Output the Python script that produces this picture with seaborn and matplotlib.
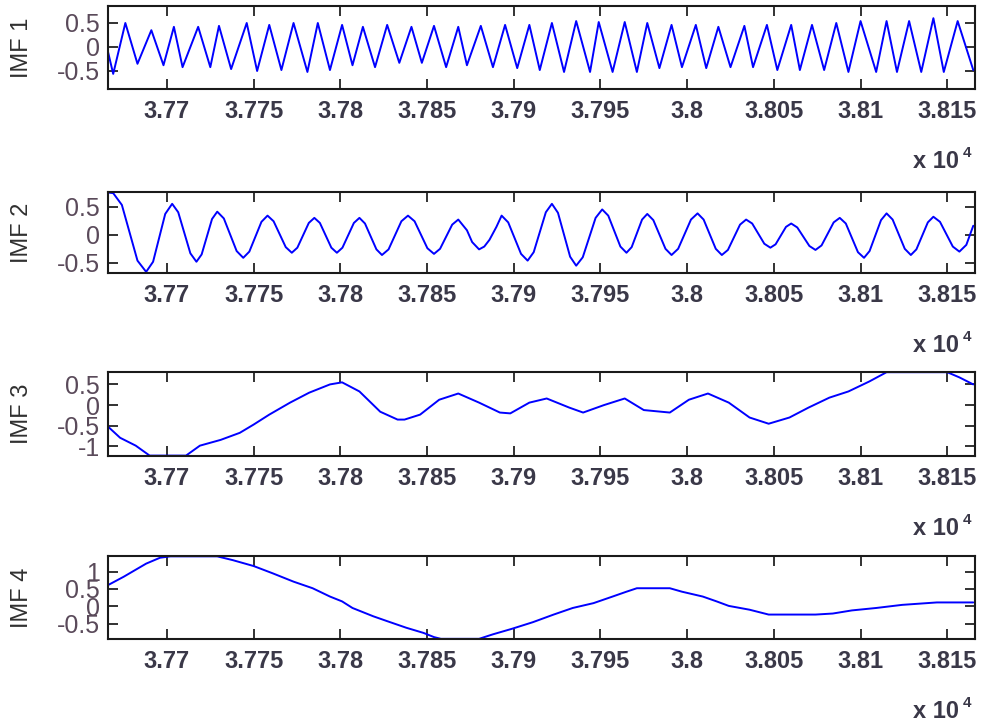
import matplotlib
matplotlib.use("Agg")
import matplotlib.pyplot as plt
import numpy as np
import pandas as pd
import seaborn as sns

# ---------------- data ----------------
imf1_t = [37666, 37669, 37676, 37683, 37691, 37698, 37704, 37709, 37718, 37725,
          37730, 37737, 37746, 37752, 37759, 37766, 37773, 37781, 37787, 37794,
          37801, 37807, 37813, 37820, 37827, 37834, 37841, 37847, 37854, 37861,
          37868, 37873, 37881, 37888, 37895, 37902, 37909, 37915, 37922, 37929,
          37936, 37944, 37949, 37957, 37964, 37971, 37977, 37984, 37991, 37997,
          38005, 38011, 38018, 38025, 38033, 38038, 38046, 38052, 38060, 38065,
          38072, 38079, 38086, 38093, 38100, 38109, 38115, 38121, 38128, 38135,
          38142, 38148, 38156, 38165]
imf1_v = [-0.10, -0.56, 0.50, -0.35, 0.35, -0.38, 0.42, -0.42, 0.42, -0.42,
          0.44, -0.46, 0.50, -0.50, 0.46, -0.48, 0.50, -0.52, 0.50, -0.48,
          0.46, -0.38, 0.42, -0.42, 0.46, -0.33, 0.42, -0.33, 0.44, -0.42,
          0.42, -0.38, 0.44, -0.42, 0.46, -0.44, 0.46, -0.48, 0.50, -0.52,
          0.54, -0.52, 0.52, -0.52, 0.52, -0.52, 0.50, -0.44, 0.46, -0.42,
          0.46, -0.44, 0.42, -0.42, 0.44, -0.42, 0.46, -0.48, 0.46, -0.48,
          0.46, -0.48, 0.50, -0.52, 0.54, -0.52, 0.54, -0.52, 0.54, -0.52,
          0.60, -0.52, 0.54, -0.48]

imf2_t = [37666, 37669, 37674, 37683, 37688,
          37692, 37699, 37703,
          37706.5, 37713.5, 37717,
          37720, 37726, 37729,
          37732.8, 37740.2, 37744,
          37747.5, 37754.5, 37758,
          37761.5, 37768.5, 37772,
          37775.2, 37781.8, 37785,
          37788.2, 37794.8, 37798,
          37801.2, 37807.8, 37811,
          37814.2, 37820.8, 37824,
          37827.8, 37835.2, 37839,
          37842.8, 37850.2, 37854,
          37857.5, 37864.5, 37868,
          37873, 37876, 37880, 37883, 37886, 37890, 37893,
          37896.8, 37904.2, 37908,
          37911.5, 37918.5, 37922,
          37925.5, 37932.5, 37936,
          37939.8, 37947.2, 37951,
          37954.5, 37961.5, 37965,
          37968, 37974, 37977,
          37980.5, 37987.5, 37991,
          37994.8, 38002.2, 38006,
          38009.5, 38016.5, 38020,
          38023.5, 38030.5, 38034,
          38037.5, 38044.5, 38048,
          38051, 38057, 38060,
          38063.5, 38070.5, 38074,
          38077.5, 38084.5, 38088,
          38091.5, 38098.5, 38102,
          38105.2, 38111.8, 38115,
          38118.5, 38125.5, 38129,
          38132.2, 38138.8, 38142,
          38145.8, 38153.2, 38157,
          38161, 38165]
imf2_v = [0.75, 0.74, 0.53, -0.46, -0.66,
          -0.48, 0.37, 0.55,
          0.40, -0.33, -0.48,
          -0.35, 0.28, 0.41,
          0.29, -0.29, -0.41,
          -0.30, 0.23, 0.34,
          0.24, -0.22, -0.32,
          -0.23, 0.21, 0.30,
          0.21, -0.23, -0.32,
          -0.23, 0.21, 0.30,
          0.20, -0.26, -0.36,
          -0.26, 0.24, 0.34,
          0.24, -0.24, -0.34,
          -0.25, 0.18, 0.27,
          0.08, -0.13, -0.26, -0.21, -0.09, 0.14, 0.34,
          0.22, -0.34, -0.46,
          -0.31, 0.40, 0.55,
          0.39, -0.39, -0.55,
          -0.40, 0.30, 0.45,
          0.34, -0.21, -0.32,
          -0.22, 0.27, 0.37,
          0.26, -0.25, -0.36,
          -0.25, 0.27, 0.38,
          0.27, -0.25, -0.36,
          -0.27, 0.18, 0.27,
          0.20, -0.16, -0.23,
          -0.17, 0.14, 0.20,
          0.13, -0.20, -0.27,
          -0.19, 0.22, 0.30,
          0.20, -0.31, -0.41,
          -0.29, 0.26, 0.38,
          0.27, -0.25, -0.36,
          -0.26, 0.22, 0.32,
          0.23, -0.21, -0.30,
          -0.18, 0.16]

imf3_t = [37666, 37673, 37682, 37690, 37700, 37711, 37719, 37731, 37742, 37750,
          37759, 37771, 37782, 37794, 37801, 37811, 37823, 37833, 37837, 37846,
          37857, 37868, 37880, 37892, 37898, 37909, 37919, 37932, 37940, 37952,
          37964, 37975, 37990, 38001, 38012, 38024, 38036, 38047, 38059, 38070,
          38082, 38093, 38105, 38115, 38131, 38150, 38157, 38165]
imf3_v = [-0.52, -0.79, -0.98, -1.22, -1.22, -1.22, -0.98, -0.84, -0.67, -0.47,
          -0.23, 0.06, 0.30, 0.50, 0.55, 0.33, -0.16, -0.35, -0.35, -0.23,
          0.13, 0.28, 0.06, -0.18, -0.20, 0.06, 0.16, -0.06, -0.18, 0.00,
          0.16, -0.12, -0.18, 0.13, 0.28, 0.06, -0.30, -0.45, -0.30, -0.06,
          0.18, 0.33, 0.57, 0.795, 0.795, 0.795, 0.67, 0.50]

imf4_t = [37666, 37675, 37688, 37696, 37702, 37729, 37738, 37750, 37761,
          37773, 37784, 37794, 37801, 37807, 37819, 37827, 37838, 37848, 37854,
          37858, 37880, 37888, 37899, 37911, 37923, 37934, 37946, 37957,
          37965, 37971, 37978, 37990, 37997, 38009, 38017, 38024, 38036, 38047,
          38059, 38074, 38084, 38095, 38109, 38124, 38144, 38165]
imf4_v = [0.61, 0.85, 1.23, 1.40, 1.44, 1.44, 1.33, 1.16, 0.95,
          0.71, 0.52, 0.28, 0.14, -0.05, -0.29, -0.43, -0.62, -0.77, -0.89,
          -0.94, -0.94, -0.81, -0.65, -0.46, -0.24, -0.05, 0.09, 0.28,
          0.42, 0.52, 0.52, 0.52, 0.42, 0.28, 0.14, 0.01, -0.10, -0.24,
          -0.24, -0.24, -0.21, -0.12, -0.05, 0.04, 0.11, 0.11]

labels = ["IMF 1", "IMF 2", "IMF 3", "IMF 4"]

xtick_vals = [37700, 37750, 37800, 37850, 37900, 37950, 38000, 38050, 38100, 38150]
xtick_labels = ["3.77", "3.775", "3.78", "3.785", "3.79", "3.795", "3.8", "3.805", "3.81", "3.815"]

ytick_vals = [[0.5, 0, -0.5], [0.5, 0, -0.5], [0.5, 0, -0.5, -1], [1, 0.5, 0, -0.5]]
ytick_labels = [["0.5", "0", "-0.5"], ["0.5", "0", "-0.5"],
                ["0.5", "0", "-0.5", "-1"], ["1", "0.5", "0", "-0.5"]]

# ---------------- layout / style ----------------
sns.set_style("white")
plt.rcParams["font.family"] = ["Liberation Sans", "DejaVu Sans"]

W, H = 984, 726
fig = plt.figure(figsize=(W / 100, H / 100), dpi=100)
fig.patch.set_facecolor("white")

# (top, bottom) of each axes box in pixels
boxes = [(6, 89), (192, 273), (372, 456), (556, 639)]
ylims = [(-0.875, 0.854), (-0.68, 0.76), (-1.23, 0.80), (-0.945, 1.45)]
series = [(imf1_t, imf1_v), (imf2_t, imf2_v), (imf3_t, imf3_v), (imf4_t, imf4_v)]

left_px, right_px = 108, 975
for i, ((top, bot), (t, v)) in enumerate(zip(boxes, series)):
    ax = fig.add_axes([left_px / W, 1 - bot / H, (right_px - left_px) / W, (bot - top) / H])
    df = pd.DataFrame({"t": t, "v": v})
    sns.lineplot(data=df, x="t", y="v", ax=ax, color="#0000ff", linewidth=1.4,
                 estimator=None, sort=False)
    ax.set_xlim(37666, 38166)
    ax.set_ylim(*ylims[i])
    ax.set_xticks(xtick_vals)
    ax.set_xticklabels(xtick_labels, fontsize=17, fontweight="bold", color="#3a3848")
    ax.set_yticks(ytick_vals[i])
    ax.set_yticklabels(ytick_labels[i], fontsize=18, color="#5a4a5a")
    ax.set_xlabel("")
    ax.set_ylabel(labels[i], fontsize=17, color="#303030")
    ax.yaxis.set_label_coords(-0.0865, 0.5)
    ax.tick_params(axis="both", direction="in", length=7, width=1.3, color="#222222",
                   top=True, right=True, bottom=True, left=True)
    ax.tick_params(axis="x", pad=8)
    ax.tick_params(axis="y", pad=6)
    for sp in ax.spines.values():
        sp.set_visible(True)
        sp.set_linewidth(1.5)
        sp.set_color("#1a1a1a")
    # exponent label "x 10^4"
    fig.text(913 / W, 1 - (bot + 79) / H, "x 10", fontsize=17, fontweight="bold",
             color="#3a3848", ha="left", va="baseline")
    fig.text(963 / W, 1 - (bot + 68) / H, "4", fontsize=11, fontweight="bold",
             color="#3a3848", ha="left", va="baseline")

fig.savefig("out.png", dpi=100)
